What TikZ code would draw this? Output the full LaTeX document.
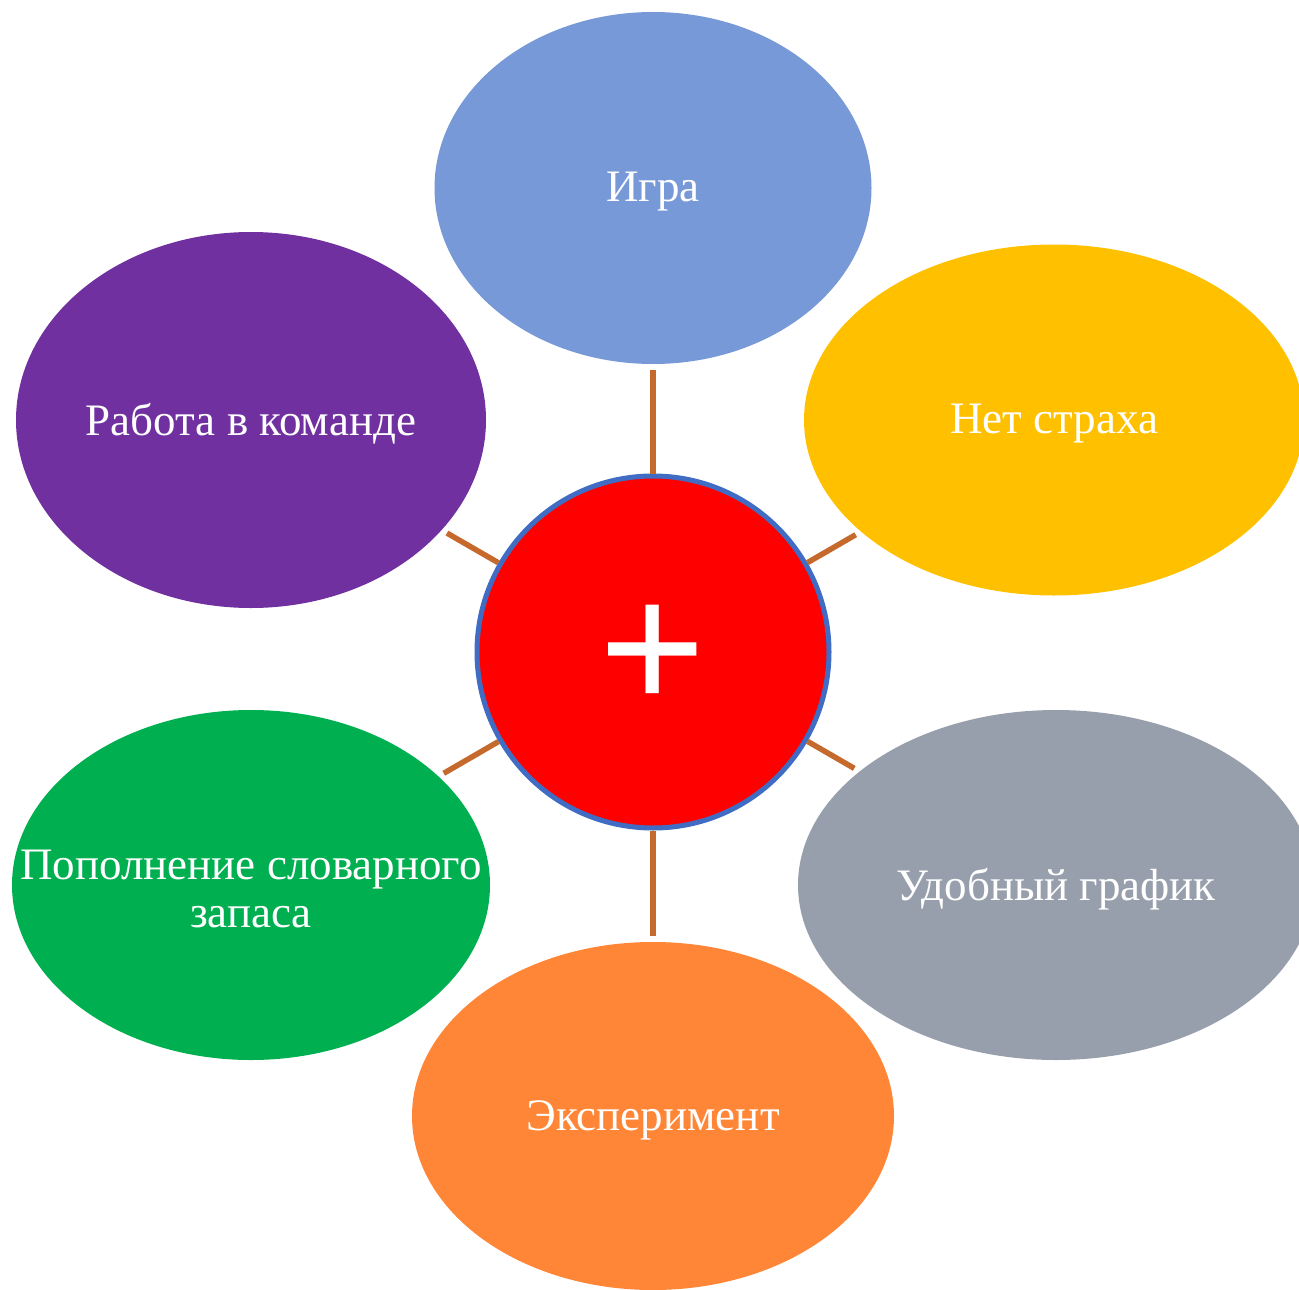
\documentclass[tikz,border=0pt]{standalone}
\usepackage{fontspec}
\setmainfont{Liberation Serif}
\usetikzlibrary{shapes.geometric}
\definecolor{cblue}{RGB}{120,153,215}
\definecolor{cyellow}{RGB}{255,192,0}
\definecolor{cpurple}{RGB}{112,48,160}
\definecolor{cgreen}{RGB}{0,176,80}
\definecolor{cgray}{RGB}{152,159,172}
\definecolor{corange}{RGB}{255,134,55}
\definecolor{cred}{RGB}{255,0,0}
\definecolor{cborder}{RGB}{64,108,196}
\definecolor{cline}{RGB}{197,105,45}
\tikzset{
  petal/.style={ellipse, inner sep=0pt},
  petaltext/.style={text=white, align=center, inner sep=0pt, yshift=-4pt,
    font=\fontsize{45}{48}\selectfont},
  hub/.style={circle, fill=cred, draw=cborder, line width=5pt, minimum size=352pt,
    inner sep=0pt},
  conn/.style={draw=cline, line width=5.5pt, shorten >=6pt}
}
\begin{document}
\begin{tikzpicture}[x=1pt,y=-1pt]
\useasboundingbox (0,0) rectangle (1299,1290);
\node[petal, fill=cblue, minimum width=437pt, minimum height=352pt,
  label={[petaltext]center:Игра}] (t) at (653,188) {};
\node[petal, fill=cyellow, minimum width=500pt, minimum height=351pt,
  label={[petaltext]center:Нет страха}] (tr) at (1054,420) {};
\node[petal, fill=cpurple, minimum width=470pt, minimum height=376pt,
  label={[petaltext]center:Работа в команде}] (tl) at (251,420) {};
\node[petal, fill=cgreen, minimum width=478pt, minimum height=350pt,
  label={[petaltext]center:Пополнение словарного\\запаса}] (bl) at (251,885) {};
\node[petal, fill=cgray, minimum width=516pt, minimum height=350pt,
  label={[petaltext]center:Удобный график}] (br) at (1056,885) {};
\node[petal, fill=corange, minimum width=482pt, minimum height=348pt,
  label={[petaltext]center:Эксперимент}] (b) at (653,1116) {};
\node[hub, label={[text=white, inner sep=0pt, font=\fontsize{190}{190}\bfseries\selectfont, yshift=-7pt]center:+}] (c) at (653,652) {};
\foreach \n in {t,tr,tl,bl,br,b} \draw[conn] (c) -- (\n);
\end{tikzpicture}
\end{document}
